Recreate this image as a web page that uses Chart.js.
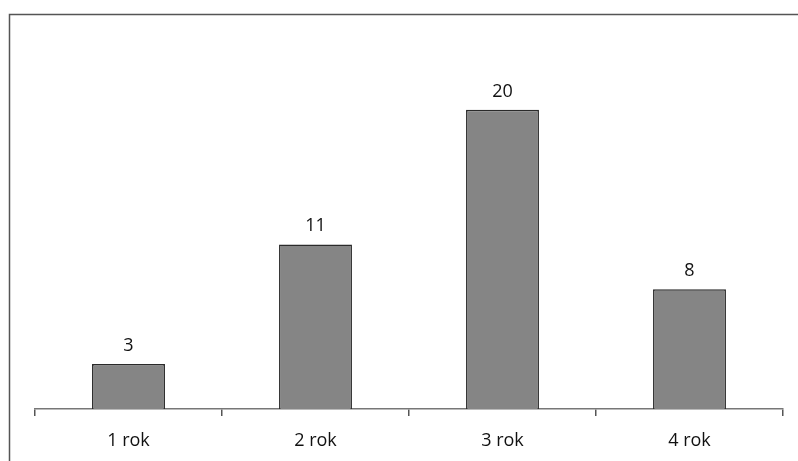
<!DOCTYPE html>
<html>
<head>
<meta charset="utf-8">
<script src="https://cdn.jsdelivr.net/npm/chart.js@4/dist/chart.umd.min.js"></script>
<style>
  html, body { margin: 0; padding: 0; background: #fff; }
  #wrap { width: 798px; height: 461px; position: relative; }
</style>
</head>
<body>
<div id="wrap"><canvas id="chart"></canvas></div>
<script>
const categories = ['1 rok', '2 rok', '3 rok', '4 rok'];
const values = [3, 11, 20, 8];

// ramka wokół wykresu
const framePlugin = {
    id: 'frame',
    beforeDraw(chart) {
        const c = chart.ctx;
        c.save();
        c.strokeStyle = '#555';
        c.lineWidth = 1.5;
        c.strokeRect(9.5, 14.5, 800, 460);
        c.restore();
    }
};

// wartości nad słupkami
const valueLabels = {
    id: 'valueLabels',
    afterDatasetsDraw(chart) {
        const c = chart.ctx;
        const meta = chart.getDatasetMeta(0);
        c.save();
        c.fillStyle = '#111';
        c.font = '18px "Open Sans"';
        c.textAlign = 'center';
        c.textBaseline = 'alphabetic';
        meta.data.forEach((bar, i) => {
            c.fillText(values[i], bar.x, bar.y - 13);
        });
        c.restore();
    }
};

new Chart(document.getElementById('chart'), {
    type: 'bar',
    data: {
        labels: categories,
        datasets: [{
            data: values,
            backgroundColor: '#858585',
            borderColor: '#2a2a2a',
            borderWidth: 1.5,
            barPercentage: 0.39,
            categoryPercentage: 1
        }]
    },
    options: {
        responsive: true,
        maintainAspectRatio: false,
        animation: false,
        layout: { padding: { left: 35, right: 15, top: 35, bottom: -5 } },
        plugins: { legend: { display: false }, tooltip: { enabled: false } },
        scales: {
            y: { display: false, min: 0, max: 25 },
            x: {
                grid: {
                    offset: true,
                    drawOnChartArea: false,
                    drawTicks: true,
                    tickLength: 7,
                    color: '#555',
                    lineWidth: 1.5
                },
                border: { display: true, color: '#777', width: 1.5 },
                ticks: {
                    color: '#111',
                    padding: 16,
                    font: { family: '"Open Sans"', size: 18, lineHeight: 1 }
                }
            }
        }
    },
    plugins: [framePlugin, valueLabels]
});
</script>
</body>
</html>
